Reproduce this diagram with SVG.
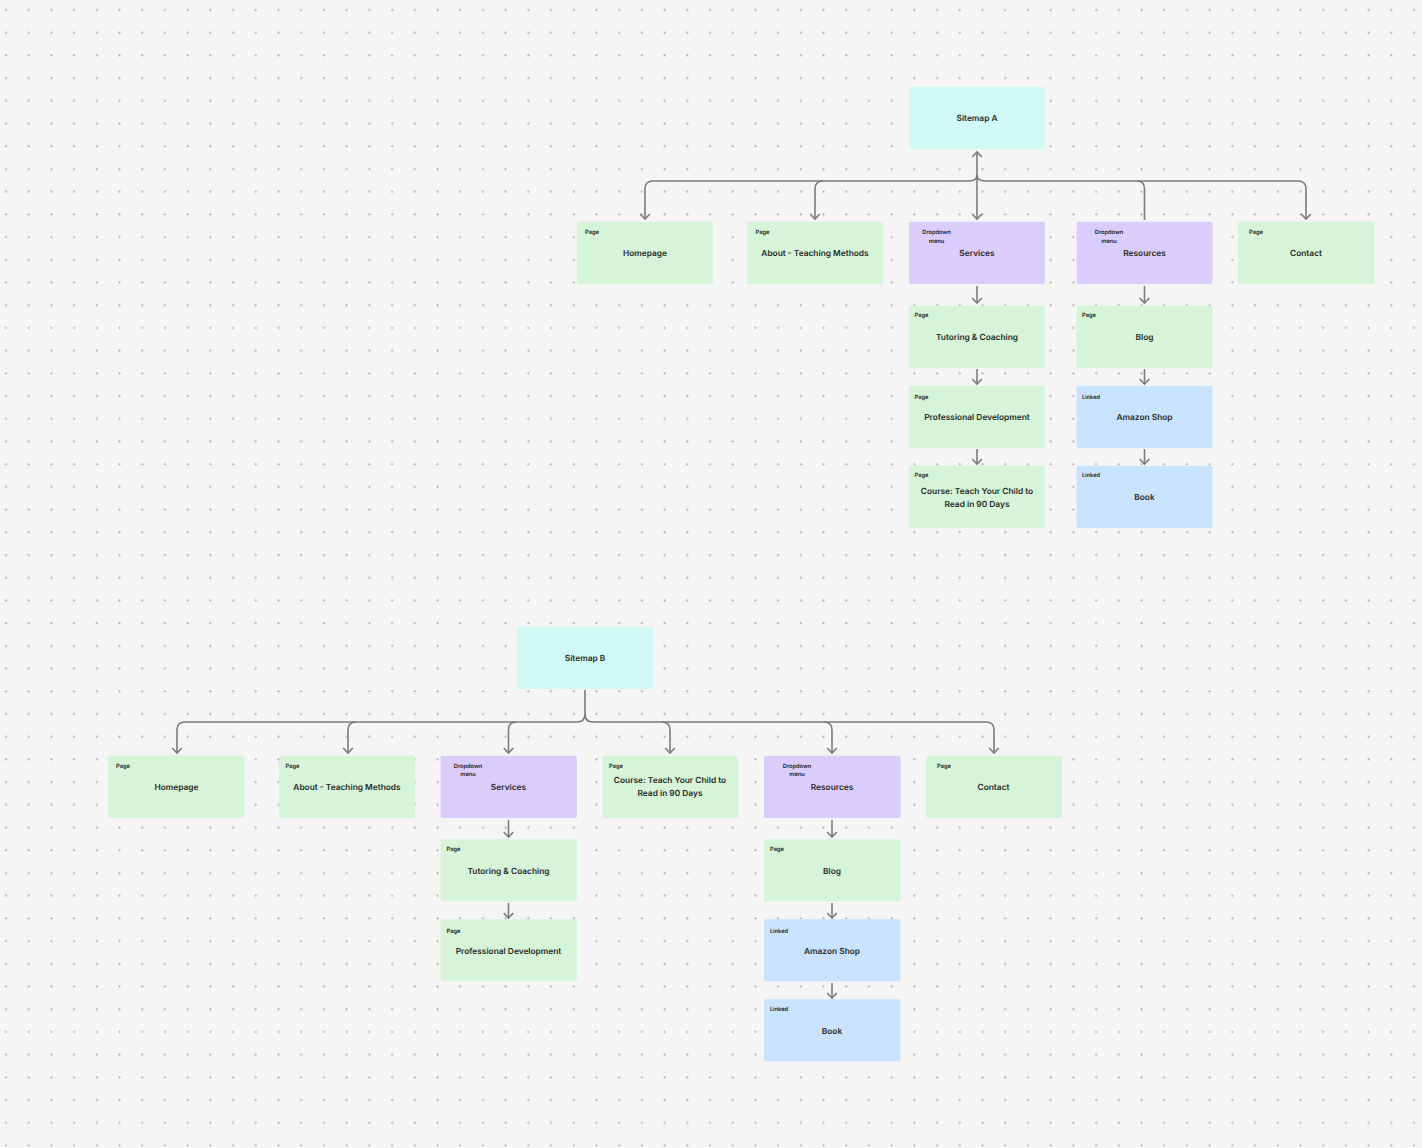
<svg xmlns="http://www.w3.org/2000/svg" width="1422" height="1148" viewBox="0 0 1422 1148">
<style>
text{text-rendering:geometricPrecision}
.t{font-family:Inter,"Liberation Sans",sans-serif;font-size:8.35px;font-weight:600;fill:#2a2a2a;text-anchor:middle}
.l{font-family:Inter,"Liberation Sans",sans-serif;font-size:5.7px;font-weight:600;fill:#222;text-anchor:middle}
.g{fill:#d5f4d8}.p{fill:#dacdfb}.b{fill:#c9e3fd}.c{fill:#d0f9f5}
.e{fill:none;stroke:#7c7c7c;stroke-width:1.6}
</style>
<defs>
<pattern id="dots" x="-3.4" y="0.8" width="22.71" height="22.71" patternUnits="userSpaceOnUse"><circle cx="9.4" cy="9.2" r="1.05" fill="#aaaaaa"/></pattern>
<marker id="arr" markerWidth="12" markerHeight="10" refX="5.5" refY="5" orient="auto-start-reverse" markerUnits="userSpaceOnUse" viewBox="0 0 12 10" overflow="visible"><path d="M0.5 0.2 L5.5 5 L0.5 9.8" fill="none" stroke="#7c7c7c" stroke-width="1.6"/></marker>
</defs>
<rect width="1422" height="1148" fill="#f5f5f5"/>
<rect width="1422" height="1148" fill="url(#dots)"/>
<g id="connectors" class="e">
<path class="e" d="M977 152V219" marker-start="url(#arr)" marker-end="url(#arr)"/>
<path class="e" d="M977 175Q977 181 969 181H653Q645 181 645 189V219" marker-end="url(#arr)"/>
<path class="e" d="M823 181Q815 181 815 189V219" marker-end="url(#arr)"/>
<path class="e" d="M977 175Q977 181 985 181H1298Q1306 181 1306 189V219" marker-end="url(#arr)"/>
<path class="e" d="M1137 181Q1144.500 181 1144.500 189V220"/>
<path class="e" d="M977 286V303" marker-end="url(#arr)"/>
<path class="e" d="M1144.500 286V303" marker-end="url(#arr)"/>
<path class="e" d="M977 369V384" marker-end="url(#arr)"/>
<path class="e" d="M1144.500 369V384" marker-end="url(#arr)"/>
<path class="e" d="M977 449V464" marker-end="url(#arr)"/>
<path class="e" d="M1144.500 449V464" marker-end="url(#arr)"/>
<path class="e" d="M585 690V714Q585 722 577 722H185Q177 722 177 730V753" marker-end="url(#arr)"/>
<path class="e" d="M356 722Q348 722 348 730V753" marker-end="url(#arr)"/>
<path class="e" d="M516 722Q508.500 722 508.500 730V753" marker-end="url(#arr)"/>
<path class="e" d="M585 714Q585 722 593 722H986Q994 722 994 730V753" marker-end="url(#arr)"/>
<path class="e" d="M662 722Q670 722 670 730V753" marker-end="url(#arr)"/>
<path class="e" d="M824 722Q832 722 832 730V753" marker-end="url(#arr)"/>
<path class="e" d="M508.500 820V837" marker-end="url(#arr)"/>
<path class="e" d="M832 820V837" marker-end="url(#arr)"/>
<path class="e" d="M508.500 903V918" marker-end="url(#arr)"/>
<path class="e" d="M832 903V918" marker-end="url(#arr)"/>
<path class="e" d="M832 983V998" marker-end="url(#arr)"/>
</g>
<g id="a-root"><rect class="c" x="909" y="86.700" width="136" height="62.300" rx="2"/><text class="t" x="977" y="121">Sitemap A</text></g>
<g id="a-home"><rect class="g" x="577" y="221.700" width="136" height="62.300" rx="2"/><text class="l" x="592" y="233.900">Page</text><text class="t" x="645" y="255.900">Homepage</text></g>
<g id="a-about"><rect class="g" x="747" y="221.700" width="136" height="62.300" rx="2"/><text class="l" x="762.500" y="233.900">Page</text><text class="t" x="815" y="255.900">About - Teaching Methods</text></g>
<g id="a-services"><rect class="p" x="909" y="221.700" width="136" height="62.300" rx="2"/><text class="l" x="936.500" y="234.100">Dropdown</text><text class="l" x="936.500" y="242.600">menu</text><text class="t" x="977" y="255.900">Services</text></g>
<g id="a-resources"><rect class="p" x="1076.500" y="221.700" width="136" height="62.300" rx="2"/><text class="l" x="1109" y="234.100">Dropdown</text><text class="l" x="1109" y="242.600">menu</text><text class="t" x="1144.500" y="255.900">Resources</text></g>
<g id="a-contact"><rect class="g" x="1238" y="221.700" width="136.500" height="62.300" rx="2"/><text class="l" x="1256" y="233.900">Page</text><text class="t" x="1306" y="255.900">Contact</text></g>
<g id="a-tutoring"><rect class="g" x="909" y="305.700" width="136" height="62.300" rx="2"/><text class="l" x="921.500" y="317">Page</text><text class="t" x="977" y="340">Tutoring &amp; Coaching</text></g>
<g id="a-prof"><rect class="g" x="909" y="385.700" width="136" height="62.300" rx="2"/><text class="l" x="921.500" y="398.900">Page</text><text class="t" x="977" y="420">Professional Development</text></g>
<g id="a-course"><rect class="g" x="909" y="465.700" width="136" height="62.300" rx="2"/><text class="l" x="921.500" y="477">Page</text><text class="t" x="977" y="493.800">Course: Teach Your Child to</text><text class="t" x="977" y="506.700">Read in 90 Days</text></g>
<g id="a-blog"><rect class="g" x="1076.500" y="305.700" width="136" height="62.300" rx="2"/><text class="l" x="1089" y="317">Page</text><text class="t" x="1144.500" y="340">Blog</text></g>
<g id="a-amazon"><rect class="b" x="1076.500" y="385.700" width="136" height="62.300" rx="2"/><text class="l" x="1091" y="398.900">Linked</text><text class="t" x="1144.500" y="420">Amazon Shop</text></g>
<g id="a-book"><rect class="b" x="1076.500" y="465.700" width="136" height="62.300" rx="2"/><text class="l" x="1091" y="477">Linked</text><text class="t" x="1144.500" y="500">Book</text></g>
<g id="b-root"><rect class="c" x="517" y="626.700" width="136" height="62.300" rx="2"/><text class="t" x="585" y="660.800">Sitemap B</text></g>
<g id="b-home"><rect class="g" x="108" y="755.700" width="136.500" height="62.300" rx="2"/><text class="l" x="123" y="768">Page</text><text class="t" x="176.500" y="790">Homepage</text></g>
<g id="b-about"><rect class="g" x="279" y="755.700" width="136" height="62.300" rx="2"/><text class="l" x="292.500" y="768">Page</text><text class="t" x="347" y="790">About - Teaching Methods</text></g>
<g id="b-services"><rect class="p" x="440.500" y="755.700" width="136.500" height="62.300" rx="2"/><text class="l" x="468" y="767.800">Dropdown</text><text class="l" x="468" y="776.300">menu</text><text class="t" x="508.500" y="790">Services</text></g>
<g id="b-course"><rect class="g" x="602.500" y="755.700" width="136" height="62.300" rx="2"/><text class="l" x="616" y="768">Page</text><text class="t" x="670" y="783.300">Course: Teach Your Child to</text><text class="t" x="670" y="796.200">Read in 90 Days</text></g>
<g id="b-resources"><rect class="p" x="764" y="755.700" width="136.500" height="62.300" rx="2"/><text class="l" x="797" y="767.800">Dropdown</text><text class="l" x="797" y="776.300">menu</text><text class="t" x="832" y="790">Resources</text></g>
<g id="b-contact"><rect class="g" x="926" y="755.700" width="136" height="62.300" rx="2"/><text class="l" x="944" y="768">Page</text><text class="t" x="993.500" y="790">Contact</text></g>
<g id="b-tutoring"><rect class="g" x="440.500" y="839.300" width="136.500" height="62.300" rx="2"/><text class="l" x="453.500" y="851.200">Page</text><text class="t" x="508.500" y="873.800">Tutoring &amp; Coaching</text></g>
<g id="b-prof"><rect class="g" x="440.500" y="919.300" width="136.500" height="62.300" rx="2"/><text class="l" x="453.500" y="932.700">Page</text><text class="t" x="508.500" y="954">Professional Development</text></g>
<g id="b-blog"><rect class="g" x="764" y="839.300" width="136.500" height="62.300" rx="2"/><text class="l" x="777" y="851.200">Page</text><text class="t" x="832" y="873.800">Blog</text></g>
<g id="b-amazon"><rect class="b" x="764" y="919.300" width="136.500" height="62.300" rx="2"/><text class="l" x="779" y="932.700">Linked</text><text class="t" x="832" y="954">Amazon Shop</text></g>
<g id="b-book"><rect class="b" x="764" y="999.300" width="136.500" height="62.300" rx="2"/><text class="l" x="779" y="1010.800">Linked</text><text class="t" x="832" y="1034">Book</text></g>
</svg>
